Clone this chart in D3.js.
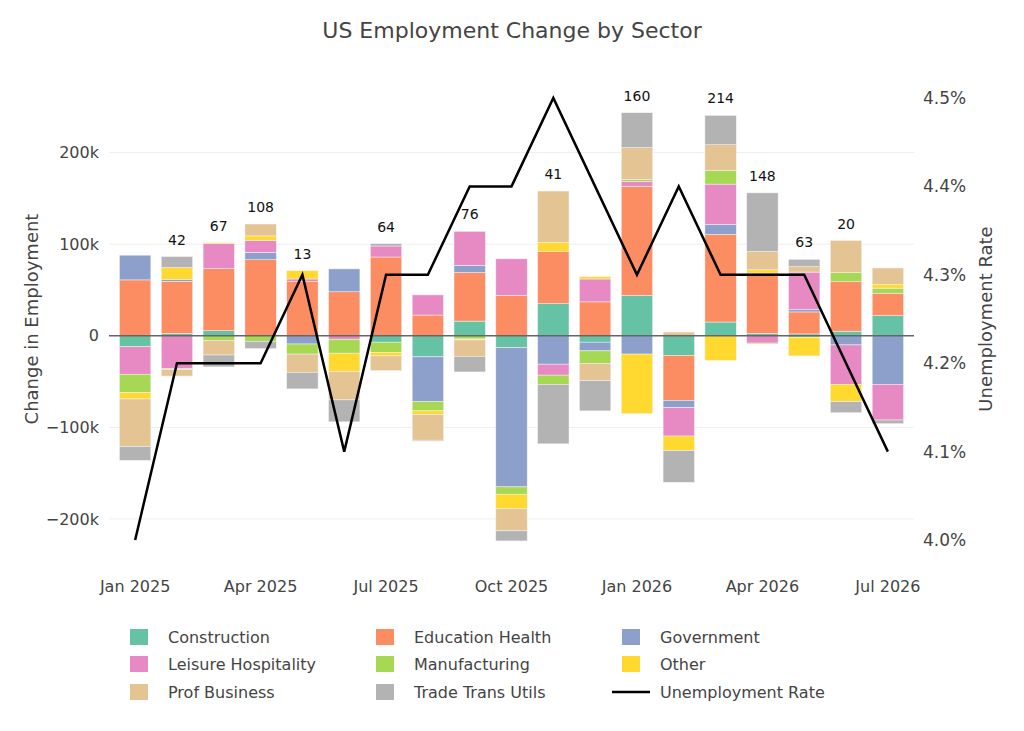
<!DOCTYPE html>
<html><head><meta charset="utf-8">
<script src="https://cdn.jsdelivr.net/npm/d3@7"></script>
<style>body{margin:0;background:#fff;font-family:"DejaVu Sans",Verdana,sans-serif}</style>
</head><body><svg id="chart" width="1024" height="731"></svg>
<script>
const months = ['2025-01','2025-02','2025-03','2025-04','2025-05','2025-06','2025-07','2025-08','2025-09','2025-10','2025-11','2025-12','2026-01','2026-02','2026-03','2026-04','2026-05','2026-06','2026-07'];
const sectors = ['Construction','Education Health','Government','Leisure Hospitality','Manufacturing','Other','Prof Business','Trade Trans Utils'];
const colors = ['#66c2a5','#fc8d62','#8da0cb','#e78ac3','#a6d854','#ffd92f','#e5c494','#b3b3b3'];
// thousands of jobs, one array per sector
const construction = [-12,2.5,5.5,0,0,0,-7,-23,16,-13,35,-7,44,-21.5,15,2.5,2,5,22];
const educationHealth = [61,57,68,83,59,48,86,22.6,53,44,57,37,119,-49,95.6,66,24,54,24.5];
const government = [27,2,0,8,-9,25,0,-49,8,-152,-31,-9.5,-20,-8,11,0,2.5,-10,-53];
const leisureHospitality = [-30,-36,27,13,3,-4,12,22,37,40,-12,25,5.5,-31,44,-8,41,-43,-39];
const manufacturing = [-20,-1,-5,-6,-11,-15,-11,-10,-3.5,-8,-10,-13.5,2,0,15,-1,-2,10,5.5];
const other = [-7,13,1,5,9,-20,-4,-4,-1,-16,10,2.5,-65,-16,-27,3.5,-20,-19,4];
const profBusiness = [-52,-7,-16,13,-20,-31,-16,-28,-18,-24,56,-19,35,4,28,20,6,35,18];
const tradeTransUtils = [-15,12,-13,-8,-18,-24,2.5,-1,-17,-11,-65,-33,38,-34.5,32,64,8,-12,-4];
const netLabels = [null,42,67,108,13,null,64,null,76,null,41,null,160,null,214,148,63,20,null];
const unemployment = [4.0,4.2,4.2,4.2,4.3,4.1,4.3,4.3,4.4,4.4,4.5,4.4,4.3,4.4,4.3,4.3,4.3,4.2,4.1];
const xTicks = ['2025-01','2025-04','2025-07','2025-10','2026-01','2026-04','2026-07'];
const leftTicks = [-200,-100,0,100,200];
const rightTicks = [4.0,4.1,4.2,4.3,4.4,4.5];

const series = [construction,educationHealth,government,leisureHospitality,manufacturing,other,profBusiness,tradeTransUtils];
const svg = d3.select('#chart');
const x = d3.scaleBand().domain(months).range([109,914]).padding(0.25);
const y = d3.scaleLinear().domain([-223,259.6]).range([540,98]);
const y2 = d3.scaleLinear().domain([4.0,4.5]).range([540,98]);
const fmtMonth = m => { const d = d3.timeParse('%Y-%m')(m); return d3.timeFormat('%b %Y')(d); };

// grid
svg.append('g').selectAll('line').data(leftTicks.filter(t => t !== 0)).enter().append('line')
  .attr('x1',109).attr('x2',914).attr('y1',d=>y(d)).attr('y2',d=>y(d))
  .attr('stroke','#eee').attr('stroke-width',1);

// relative stacking
const segs = [];
months.forEach((m,i) => {
  let pos = 0, neg = 0;
  series.forEach((s,k) => {
    const v = s[i];
    if (v >= 0) { segs.push({m, k, y0: pos, y1: pos + v}); pos += v; }
    else { segs.push({m, k, y0: neg + v, y1: neg}); neg += v; }
  });
  segs.push({m, top: pos, label: netLabels[i]});
});
svg.append('g').selectAll('rect').data(segs.filter(d => d.k !== undefined)).enter().append('rect')
  .attr('x', d => x(d.m)).attr('width', x.bandwidth())
  .attr('y', d => y(d.y1)).attr('height', d => y(d.y0) - y(d.y1))
  .attr('fill', d => colors[d.k]).attr('stroke','#f4f4f4').attr('stroke-width',0.5);

svg.append('line').attr('x1',109).attr('x2',914).attr('y1',y(0)).attr('y2',y(0))
  .attr('stroke','#666').attr('stroke-width',1.5);

svg.append('g').selectAll('text').data(segs.filter(d => d.label != null)).enter().append('text')
  .attr('x', d => x(d.m) + x.bandwidth()/2).attr('y', d => y(d.top) - 12)
  .attr('text-anchor','middle').attr('font-size',14).attr('fill','#111').text(d => d.label);

// unemployment line
const line = d3.line().x((d,i) => x(months[i]) + x.bandwidth()/2).y(d => y2(d));
svg.append('path').datum(unemployment).attr('d', line)
  .attr('fill','none').attr('stroke','#000').attr('stroke-width',2.5);

// axes
const yAxis = svg.append('g').attr('transform','translate(102,0)')
  .call(d3.axisLeft(y).tickValues(leftTicks).tickSize(0).tickFormat(d => d === 0 ? '0' : (d < 0 ? '\u2212' + (-d) : d) + 'k'));
const y2Axis = svg.append('g').attr('transform','translate(920,0)')
  .call(d3.axisRight(y2).tickValues(rightTicks).tickSize(0).tickFormat(d => d.toFixed(1) + '%'));
const xAxis = svg.append('g').attr('transform','translate(0,578)')
  .call(d3.axisBottom(x).tickValues(xTicks).tickSize(0).tickFormat(fmtMonth));
[yAxis,y2Axis,xAxis].forEach(a => {
  a.select('.domain').remove();
  a.selectAll('text').attr('font-size',16).attr('fill','#444').attr('font-family','DejaVu Sans, sans-serif');
});
y2Axis.selectAll('text').attr('font-size',17);

svg.append('text').attr('x',512).attr('y',38).attr('text-anchor','middle')
  .attr('font-size',22).attr('fill','#444').text('US Employment Change by Sector');
svg.append('text').attr('transform','translate(38,319) rotate(-90)').attr('text-anchor','middle')
  .attr('font-size',18).attr('fill','#444').text('Change in Employment');
svg.append('text').attr('transform','translate(992,319) rotate(-90)').attr('text-anchor','middle')
  .attr('font-size',18).attr('fill','#444').text('Unemployment Rate');

// legend
const legendItems = sectors.map((s,k) => ({name: s, color: colors[k]})).concat([{name:'Unemployment Rate', line:true}]);
const lg = svg.append('g').selectAll('g').data(legendItems).enter().append('g')
  .attr('transform', (d,i) => 'translate(' + [130,376,622][i % 3] + ',' + [637,664,692][Math.floor(i/3)] + ')');
lg.filter(d => !d.line).append('rect').attr('x',0).attr('y',-8).attr('width',18).attr('height',16).attr('fill', d => d.color);
lg.filter(d => d.line).append('line').attr('x1',-10).attr('x2',28).attr('y1',0).attr('y2',0).attr('stroke','#000').attr('stroke-width',2.5);
lg.append('text').attr('x',38).attr('y',6).attr('font-size',16).attr('fill','#444').text(d => d.name);
</script></body></html>
